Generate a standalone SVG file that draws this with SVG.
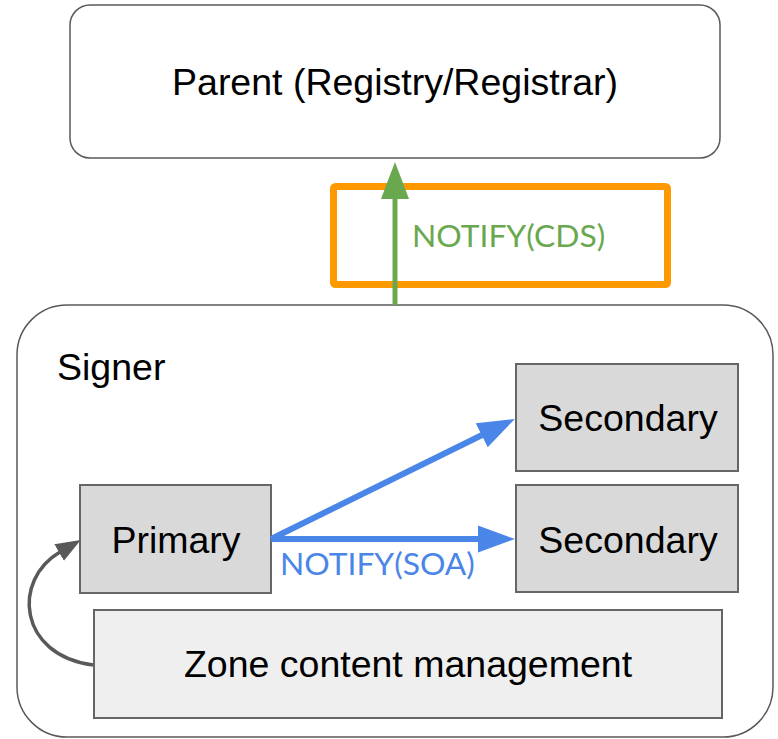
<svg xmlns="http://www.w3.org/2000/svg" width="778" height="739" viewBox="0 0 778 739">
<style>
.lbl{font-family:"Liberation Sans",Arial,sans-serif;font-size:37.5px;fill:#000}
.mid{text-anchor:middle}
.box{fill:#d9d9d9;stroke:#666666;stroke-width:2}
.note{font-family:Lato,"Liberation Sans",sans-serif;font-size:31.8px}
</style>
<defs>
<marker id="hb" markerUnits="userSpaceOnUse" markerWidth="40" markerHeight="30" viewBox="0 -15 40 30" refX="1" refY="0" orient="auto"><path d="M0,-13.5 L37,0 L0,13.5 z" fill="#4a86e8"/></marker>
<marker id="hg" markerUnits="userSpaceOnUse" markerWidth="40" markerHeight="30" viewBox="0 -15 40 30" refX="1" refY="0" orient="auto"><path d="M0,-14 L37,0 L0,14 z" fill="#6aa84f"/></marker>
<marker id="hk" markerUnits="userSpaceOnUse" markerWidth="30" markerHeight="24" viewBox="0 -12 30 24" refX="1" refY="0" orient="auto"><path d="M0,-9.5 L25,0 L0,9.5 z" fill="#595959"/></marker>
</defs>
<g id="parent">
<rect x="70" y="5" width="650" height="153" rx="20" fill="#fff" stroke="#595959" stroke-width="1.5"/>
<text class="lbl mid" x="395" y="95">Parent (Registry/Registrar)</text>
</g>
<g id="signer">
<rect x="17" y="305" width="756" height="432" rx="50" fill="#fff" stroke="#595959" stroke-width="1.5"/>
<text class="lbl" x="57" y="380">Signer</text>
</g>
<g id="secondary1">
<rect class="box" x="516" y="364" width="222" height="107"/>
<text class="lbl mid" x="628" y="431">Secondary</text>
</g>
<g id="secondary2">
<rect class="box" x="516" y="485" width="222" height="107"/>
<text class="lbl mid" x="628" y="553">Secondary</text>
</g>
<g id="primary">
<rect class="box" x="80" y="485" width="191" height="108"/>
<text class="lbl mid" x="176" y="553">Primary</text>
</g>
<g id="zone">
<rect x="94" y="610" width="628" height="108" fill="#efefef" stroke="#666666" stroke-width="2"/>
<text class="lbl mid" x="408" y="677">Zone content management</text>
</g>
<g id="highlight">
<rect x="333.5" y="186.5" width="334" height="98" rx="2" fill="none" stroke="#ff9900" stroke-width="7"/>
</g>
<g id="connectors">
<line x1="395" y1="305" x2="395" y2="198" stroke="#6aa84f" stroke-width="5" marker-end="url(#hg)"/>
<text class="note" x="412" y="247" fill="#6aa84f">NOTIFY(CDS)</text>
<line x1="271" y1="539" x2="479" y2="539" stroke="#4a86e8" stroke-width="6" marker-end="url(#hb)"/>
<line x1="271" y1="539" x2="482.6" y2="434.8" stroke="#4a86e8" stroke-width="6" marker-end="url(#hb)"/>
<text class="note" x="280" y="575" fill="#4a86e8">NOTIFY(SOA)</text>
<path d="M93,665 C18,655 12,580 60,552" fill="none" stroke="#595959" stroke-width="3.5" marker-end="url(#hk)"/>
</g>
</svg>
